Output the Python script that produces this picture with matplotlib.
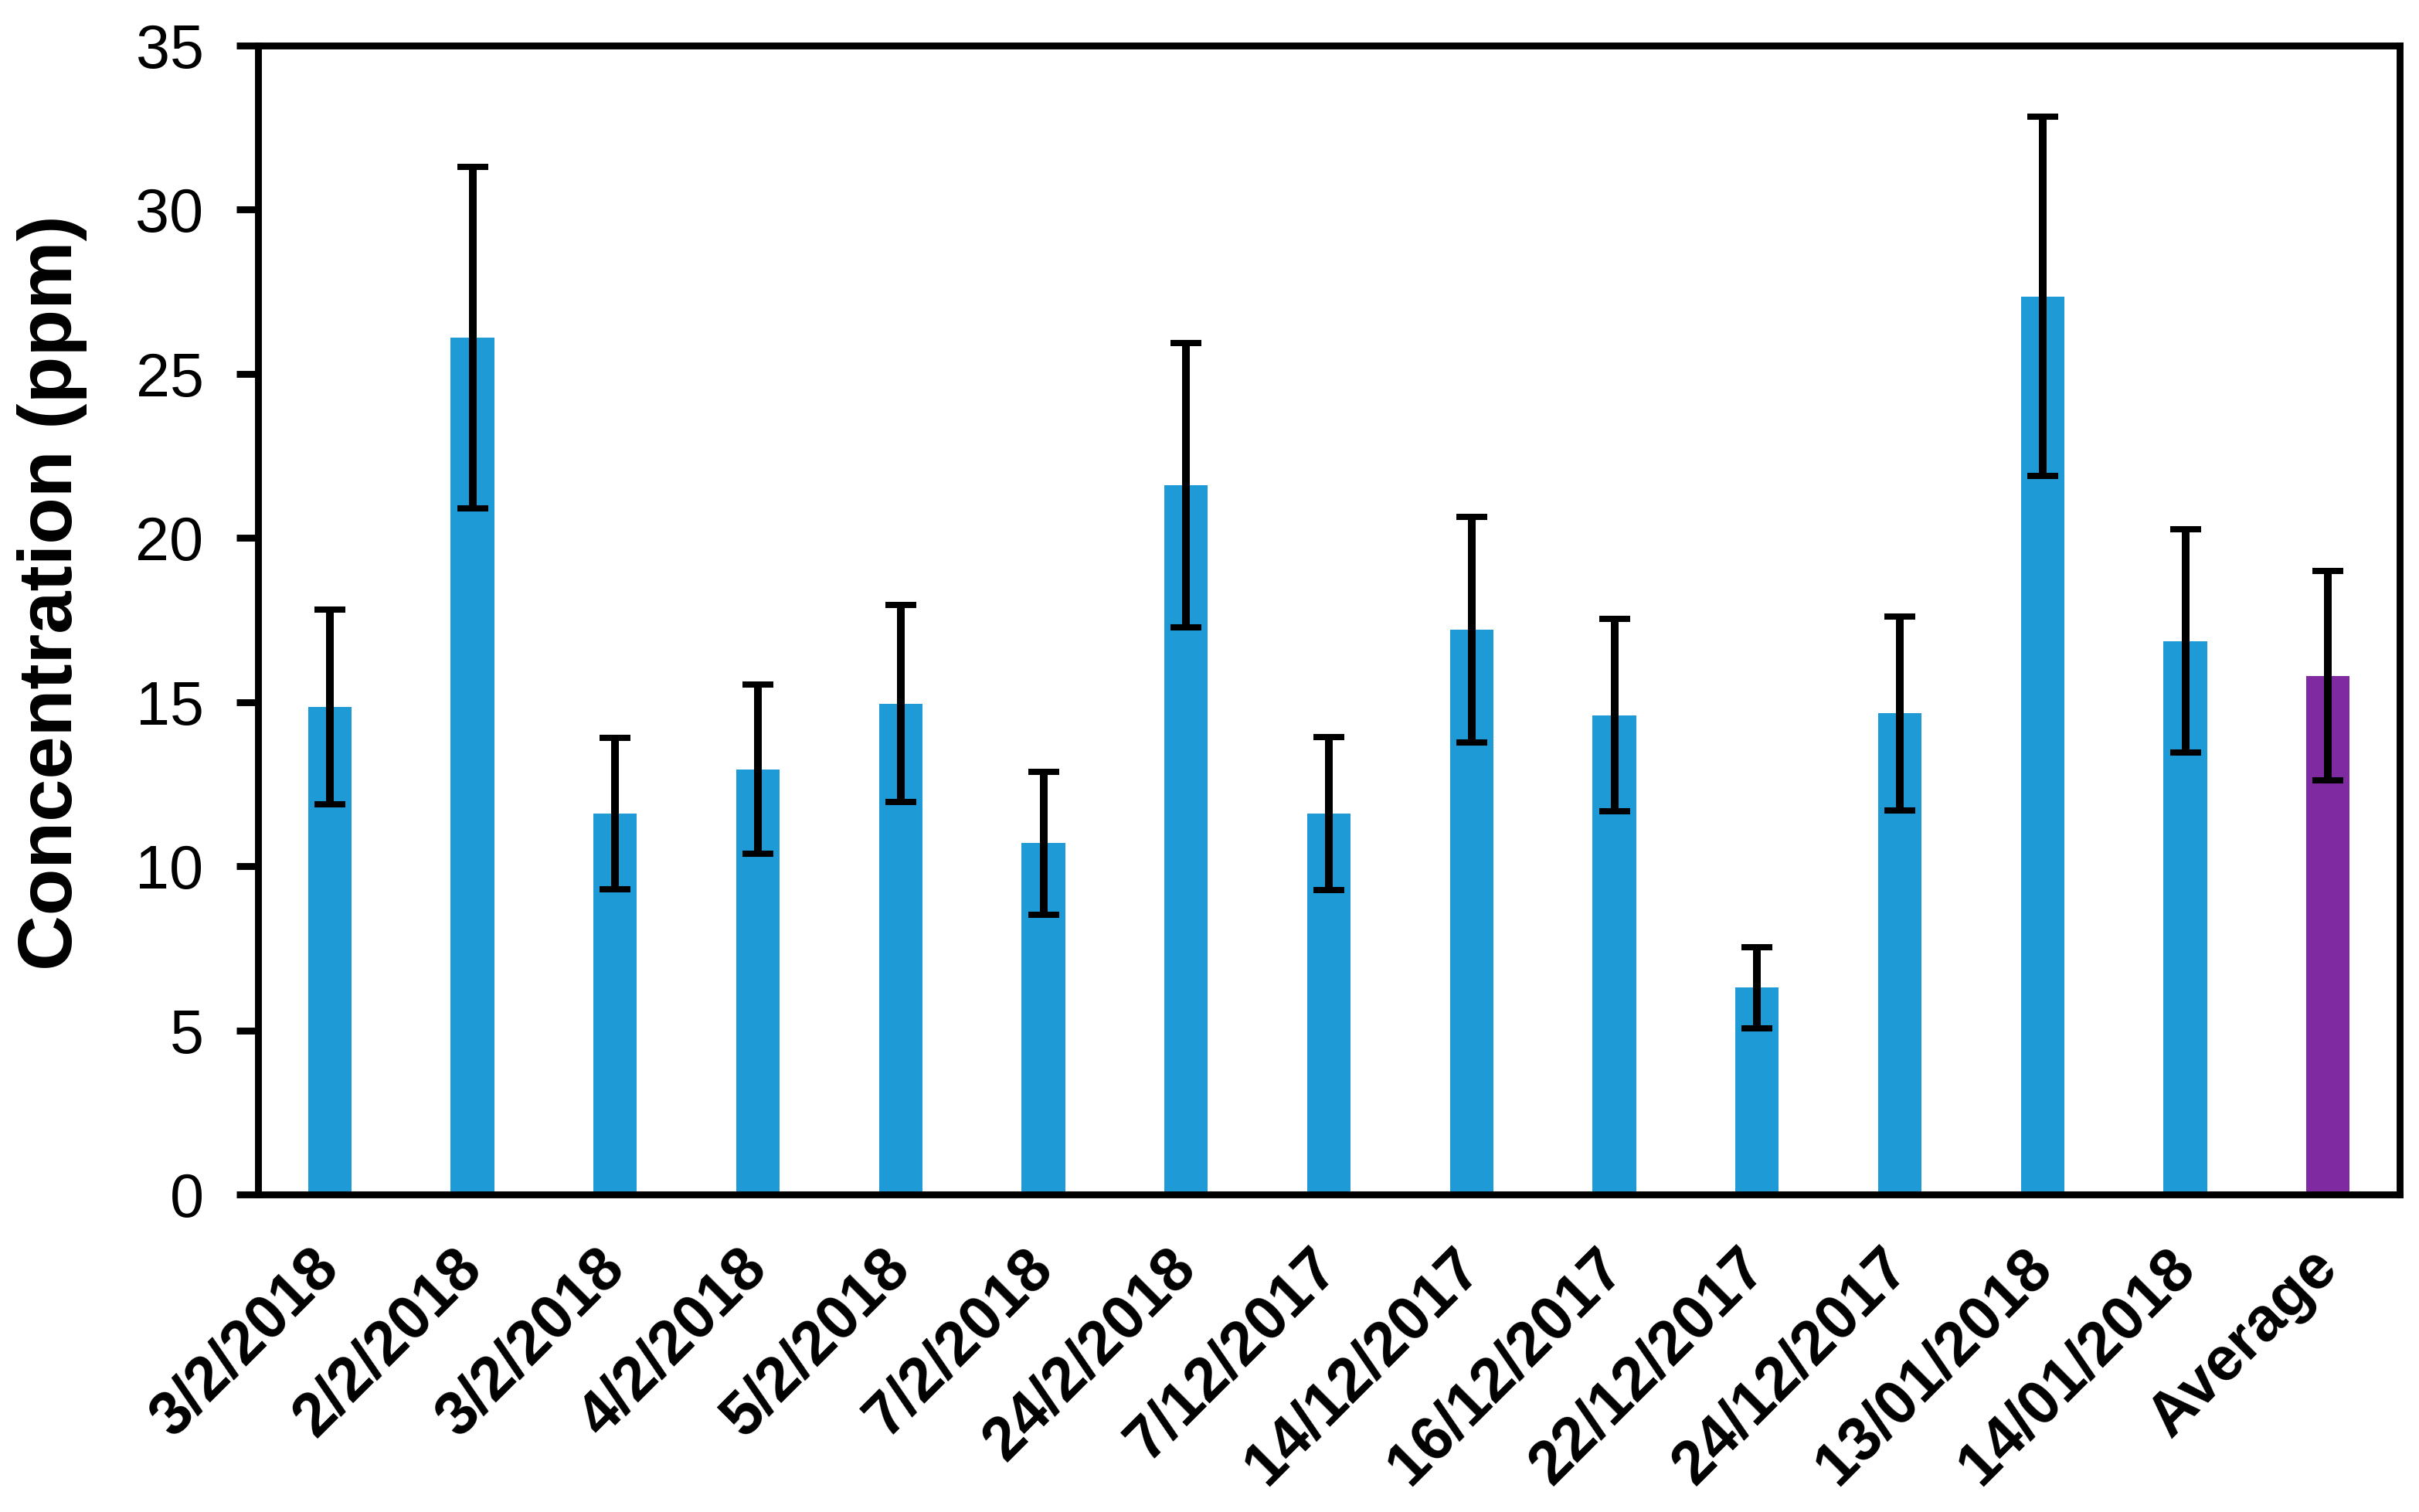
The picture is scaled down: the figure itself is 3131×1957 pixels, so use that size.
import matplotlib
matplotlib.use("Agg")
import matplotlib.pyplot as plt
import numpy as np

categories = ["3/2/2018", "2/2/2018", "3/2/2018", "4/2/2018", "5/2/2018", "7/2/2018",
              "24/2/2018", "7/12/2017", "14/12/2017", "16/12/2017", "22/12/2017",
              "24/12/2017", "13/01/2018", "14/01/2018", "Average"]
values = [14.85, 26.1, 11.6, 12.95, 14.95, 10.7, 21.6, 11.6, 17.2, 14.6, 6.3,
          14.65, 27.35, 16.85, 15.8]
errors = [2.97, 5.2, 2.3, 2.58, 3.0, 2.18, 4.34, 2.32, 3.43, 2.92, 1.24,
          2.95, 5.47, 3.4, 3.19]
bar_colors = ["#1E9AD6"] * 14 + ["#802AA2"]
yticks = [0, 5, 10, 15, 20, 25, 30, 35]

plt.rcParams['font.family'] = ['Liberation Sans', 'DejaVu Sans']

fig = plt.figure(figsize=(15.655, 9.785), dpi=200)
ax = fig.add_axes([0.1068, 0.2100, 0.9919 - 0.1068, 0.9701 - 0.2100])

x = np.arange(len(categories))
ax.bar(x, values, width=0.305, color=bar_colors, zorder=2)
ax.errorbar(x, values, yerr=errors, fmt='none', ecolor='black', elinewidth=3.6,
            capsize=7.2, capthick=2.9, zorder=3)

ax.set_xlim(-0.5, len(categories) - 0.5)
ax.set_ylim(0, 35)
ax.set_yticks(yticks)
ax.set_yticklabels([str(t) for t in yticks], fontsize=28.5)

ax.set_xticks(x)
ax.set_xticklabels(categories, fontsize=28.5, fontweight='bold', rotation=45,
                   ha='right', va='center', rotation_mode='anchor')
ax.tick_params(axis='x', length=0, pad=30)
ax.tick_params(axis='y', direction='out', length=10, width=3.2, pad=15.5)

for s in ax.spines.values():
    s.set_linewidth(3.2)
    s.set_color('black')

fig.text(0.0217, 0.608, "Concentration (ppm)", rotation=90, ha='center', va='center',
         fontsize=35.8, fontweight='bold')

fig.savefig("out.png", dpi=200)
